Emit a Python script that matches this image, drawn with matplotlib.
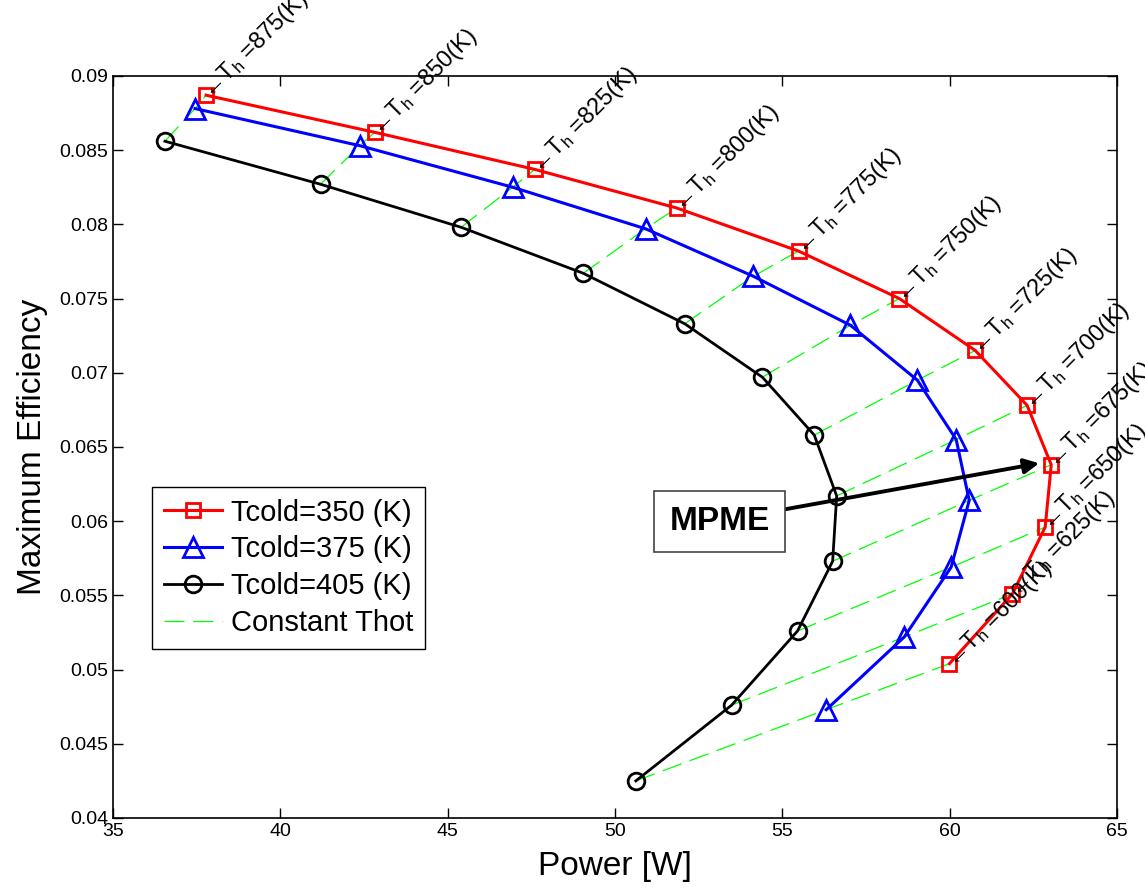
import matplotlib
matplotlib.use('Agg')
import matplotlib.pyplot as plt

plt.rcParams['font.family'] = ['Liberation Sans', 'DejaVu Sans']
plt.rcParams['mathtext.fontset'] = 'custom'
plt.rcParams['mathtext.rm'] = 'Liberation Sans'
plt.rcParams['mathtext.it'] = 'Liberation Sans'

# hot side temperatures (K)
th = [875, 850, 825, 800, 775, 750, 725, 700, 675, 650, 625, 600]

# Tcold = 350 K
p350 = [37.78, 42.82, 47.60, 51.84, 55.48, 58.49, 60.76, 62.31, 63.03, 62.85, 61.87, 59.99]
e350 = [0.0887, 0.0862, 0.0837, 0.0811, 0.0782, 0.0750, 0.0715, 0.0678, 0.0638, 0.0596, 0.0551, 0.0504]

# Tcold = 375 K
p375 = [37.45, 42.37, 46.94, 50.91, 54.13, 57.03, 59.03, 60.19, 60.58, 60.04, 58.64, 56.31]
e375 = [0.0878, 0.0853, 0.0825, 0.0797, 0.0765, 0.0732, 0.0695, 0.0655, 0.0614, 0.0569, 0.0522, 0.0473]

# Tcold = 405 K
p405 = [36.55, 41.20, 45.40, 49.05, 52.08, 54.40, 55.95, 56.62, 56.50, 55.45, 53.48, 50.62]
e405 = [0.0856, 0.0827, 0.0798, 0.0767, 0.0733, 0.0697, 0.0658, 0.0617, 0.0573, 0.0526, 0.0476, 0.0425]

xticks = [35, 40, 45, 50, 55, 60, 65]
yticks = [0.04, 0.045, 0.05, 0.055, 0.06, 0.065, 0.07, 0.075, 0.08, 0.085, 0.09]
ytick_labels = ['0.04', '0.045', '0.05', '0.055', '0.06', '0.065', '0.07', '0.075', '0.08', '0.085', '0.09']

fig = plt.figure(figsize=(11.45, 8.93), dpi=100)
ax = fig.add_axes([0.0987, 0.084, 0.877, 0.831])

ax.plot(p350, e350, '-s', color='red', lw=2.2, ms=10, mfc='none', mew=2, label='Tcold=350 (K)', zorder=3)
ax.plot(p375, e375, '-^', color='blue', lw=2.2, ms=14, mfc='none', mew=2, label='Tcold=375 (K)', zorder=3)
ax.plot(p405, e405, '-o', color='black', lw=2, ms=12, mfc='none', mew=2, label='Tcold=405 (K)', zorder=3)

# constant Thot lines
for i in range(len(th)):
    ax.plot([p405[i], p375[i], p350[i]], [e405[i], e375[i], e350[i]],
            color='#00ff00', lw=0.9, dashes=(16, 7), zorder=2,
            label='Constant Thot' if i == 0 else None)

for i in range(len(th)):
    ax.text(p350[i], e350[i], '\u2190T$_h$ =%d(K)' % th[i], rotation=45,
            rotation_mode='anchor', ha='left', va='center', fontsize=17, zorder=4)

ax.annotate('MPME', xy=(62.67, 0.0639), xytext=(53.12, 0.0600),
            fontsize=24, fontweight='bold', ha='center', va='center',
            bbox=dict(boxstyle='square,pad=0.45', fc='white', ec='#444444', lw=1.2),
            arrowprops=dict(arrowstyle='-|>', color='black', lw=2.8, mutation_scale=22, shrinkA=0, shrinkB=0),
            zorder=5)

ax.set_xlim(35, 65)
ax.set_ylim(0.04, 0.09)
ax.set_xticks(xticks)
ax.set_yticks(yticks)
ax.set_yticklabels(ytick_labels)
ax.tick_params(direction='in', top=True, right=True, length=7, labelsize=14, width=1)
for s in ax.spines.values():
    s.set_linewidth(1.2)

ax.set_xlabel('Power [W]', fontsize=24, labelpad=8)
ax.set_ylabel('Maximum Efficiency', fontsize=24, labelpad=8)

leg = ax.legend(loc='upper left', bbox_to_anchor=(0.039, 0.446), borderaxespad=0,
                fontsize=21, fancybox=False, edgecolor='black', framealpha=1,
                handlelength=2.0, handletextpad=0.3, labelspacing=0.3, borderpad=0.4)
leg.get_frame().set_linewidth(1)

fig.savefig('out.png', dpi=100)
